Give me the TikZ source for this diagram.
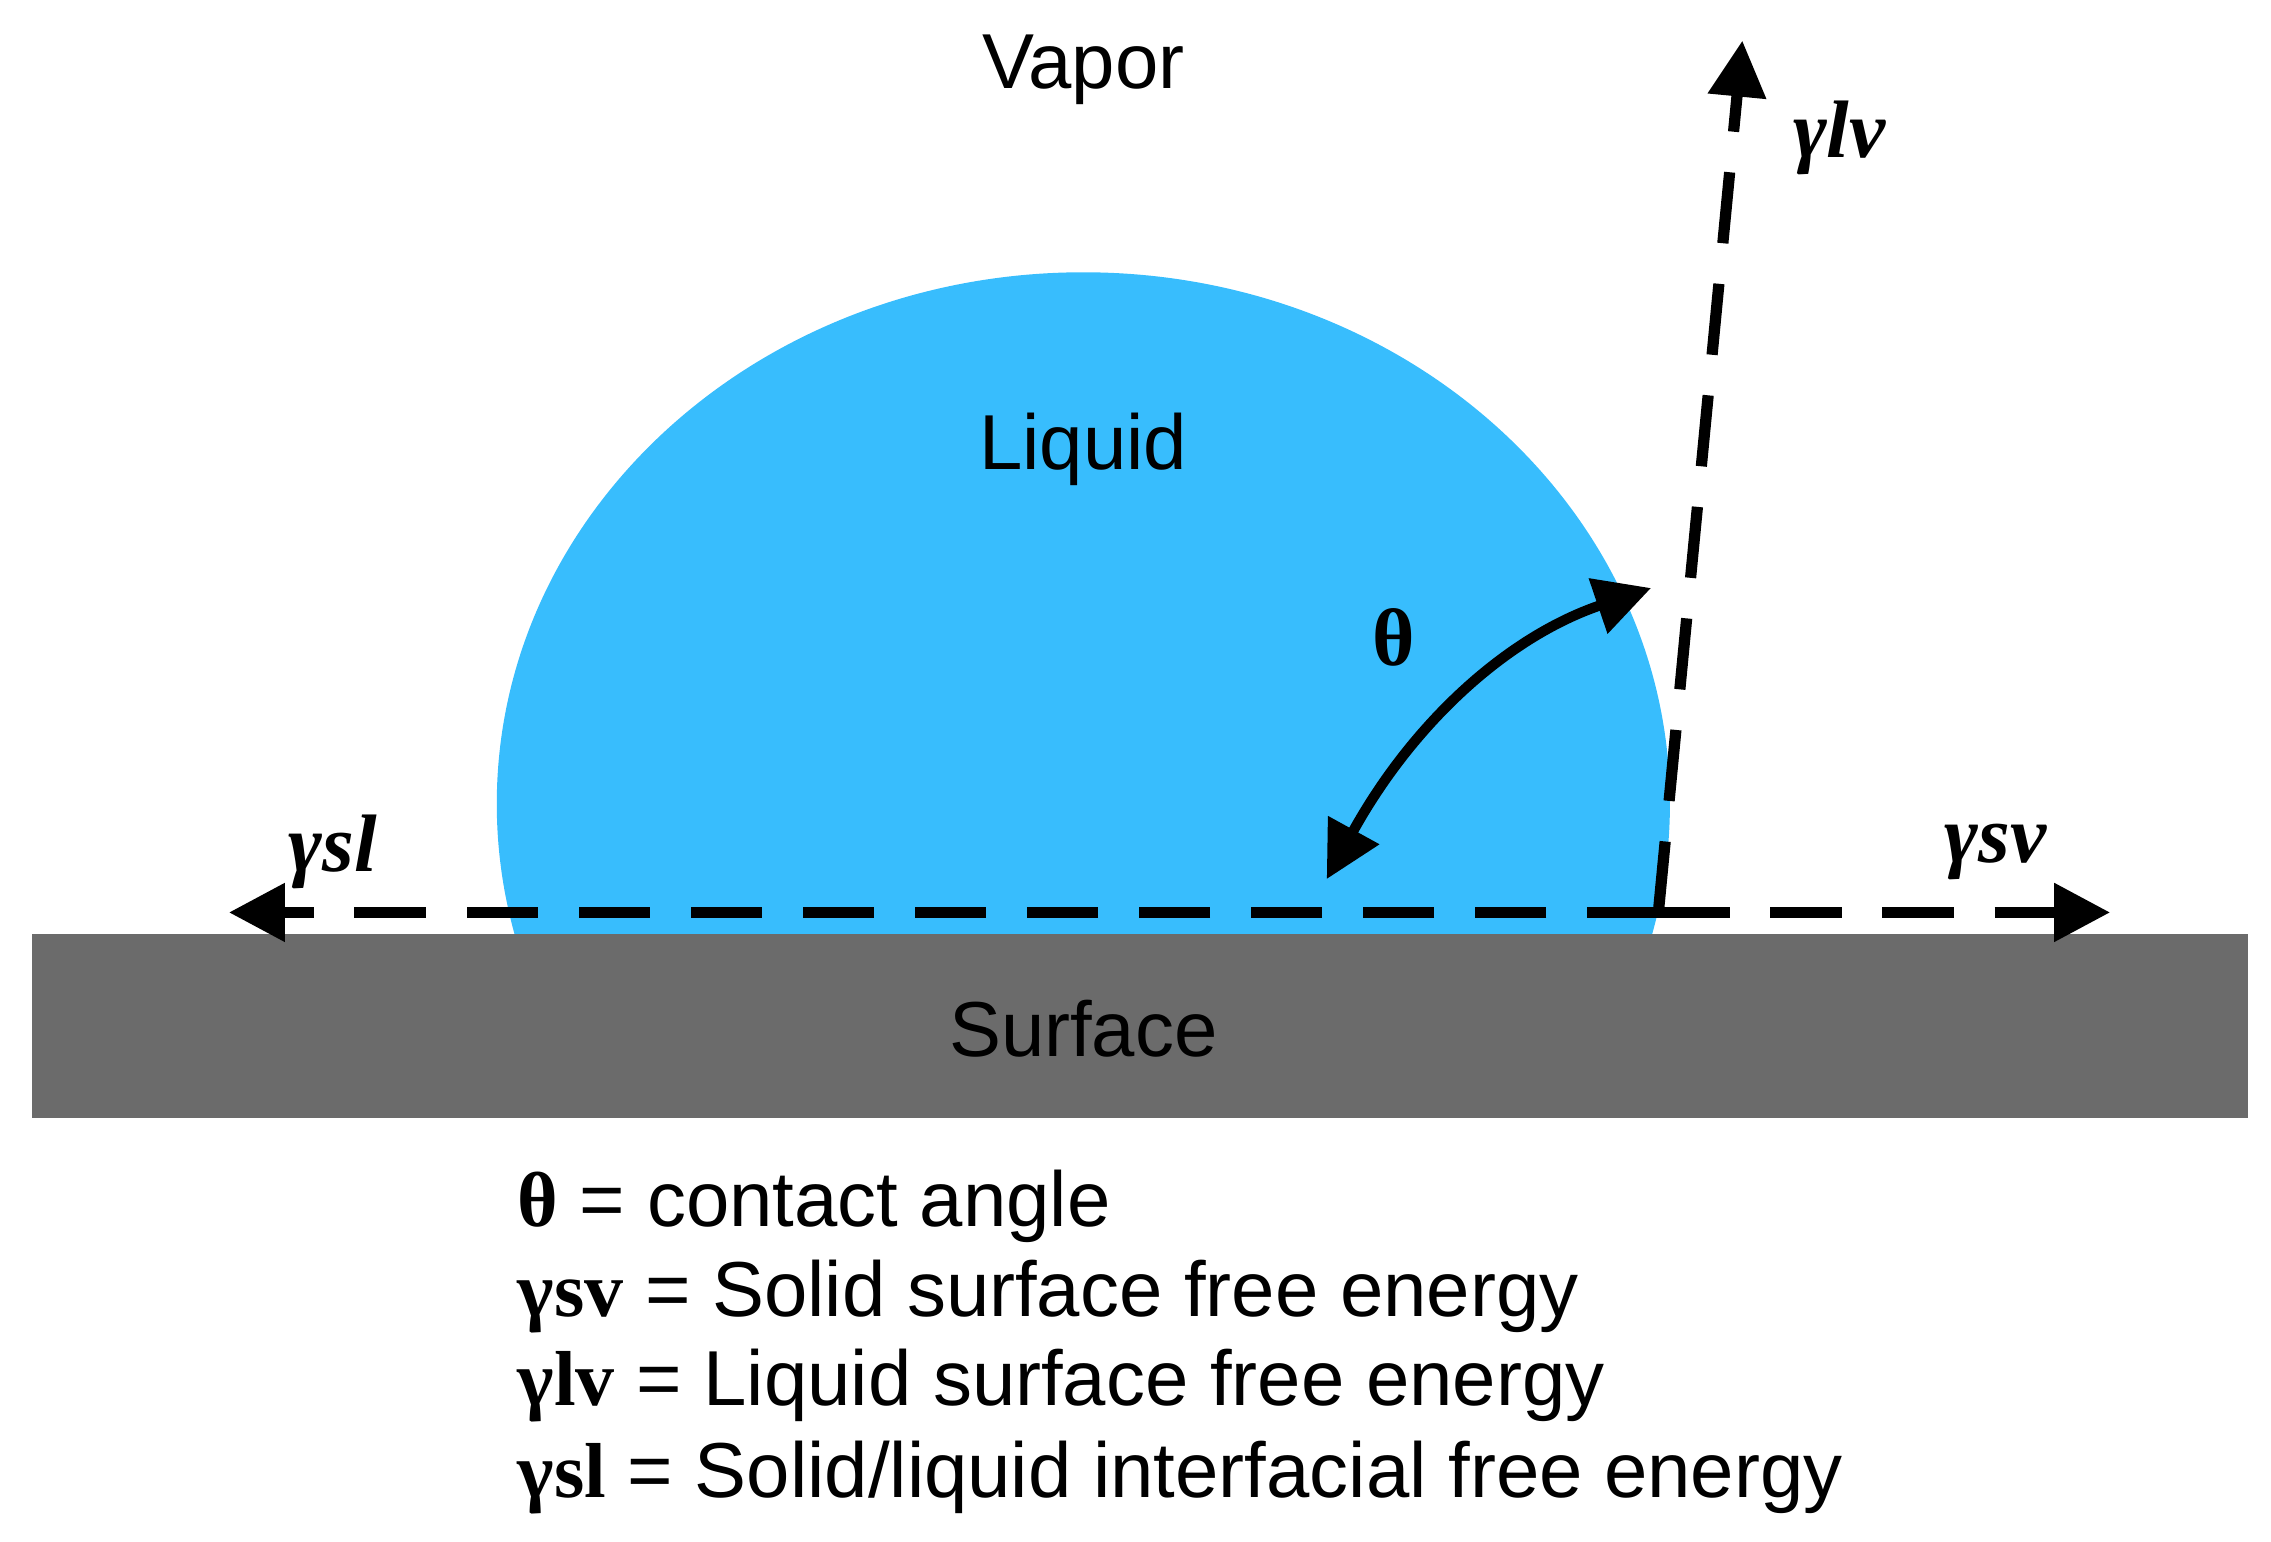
\documentclass[tikz,border=0pt]{standalone}
\usepackage{fontspec}
\setmainfont{Liberation Sans}
\newfontfamily\serifx{Liberation Serif}
\usetikzlibrary{arrows.meta}
\definecolor{drop}{HTML}{38BDFD}
\definecolor{surf}{HTML}{6B6B6B}
\tikzset{
 dashedarrow/.style={line width=2.2pt,dash pattern=on 14pt off 8pt,-{Triangle[length=11pt,width=11pt]}},
 lbl/.style={font=\fontsize{15.3}{18}\selectfont},
 sym/.style={font=\fontsize{16}{18}\selectfont\serifx\bfseries\itshape},
}
\begin{document}
\begin{tikzpicture}[x=0.01cm,y=-0.01cm]
\useasboundingbox (0,0) rectangle (1568,1064);
\begin{scope}
\clip (0,0) rectangle (1568,645);
\fill[drop] (748,555) ellipse [x radius=405,y radius=367];
\end{scope}
\fill[surf] (22,645) rectangle (1552,772);
\node[lbl] (surface) at (748,710) {Surface};
\node[lbl] (liquid) at (748,310) {Liquid};
\node[lbl] (vapor) at (748,48) {Vapor};
\coordinate (cp) at (1145,630);
\coordinate (L) at (158,630);
\coordinate (R) at (1457,630);
\coordinate (T) at (1203,28);
\coordinate (a1) at (916,607);
\coordinate (a2) at (1140,406);
\draw[dashedarrow] (cp) -- (L);
\draw[dashedarrow] (cp) -- (R);
\draw[dashedarrow] (cp) -- (T);
\node[sym] (gsl) at (230,588) {γsl};
\node[sym] (gsv) at (1378,588) {γsv};
\node[sym] (glv) at (1270,95) {γlv};
\draw[line width=2pt,{Triangle[length=11pt,width=11pt]}-{Triangle[length=11pt,width=11pt]}] (a1) .. controls (975,500) and (1040,440) .. (a2);
\node[font=\fontsize{16}{18}\selectfont\serifx\bfseries] (theta) at (962,440) {θ};
\node[lbl,anchor=west] (l1) at (345,833) {{\serifx\bfseries θ} = contact angle};
\node[lbl,anchor=west] (l2) at (345,895) {{\serifx\bfseries γsv} = Solid surface free energy};
\node[lbl,anchor=west] (l3) at (345,957) {{\serifx\bfseries γlv} = Liquid surface free energy};
\node[lbl,anchor=west] (l4) at (345,1020) {{\serifx\bfseries γsl} = Solid/liquid interfacial free energy};
\end{tikzpicture}
\end{document}
